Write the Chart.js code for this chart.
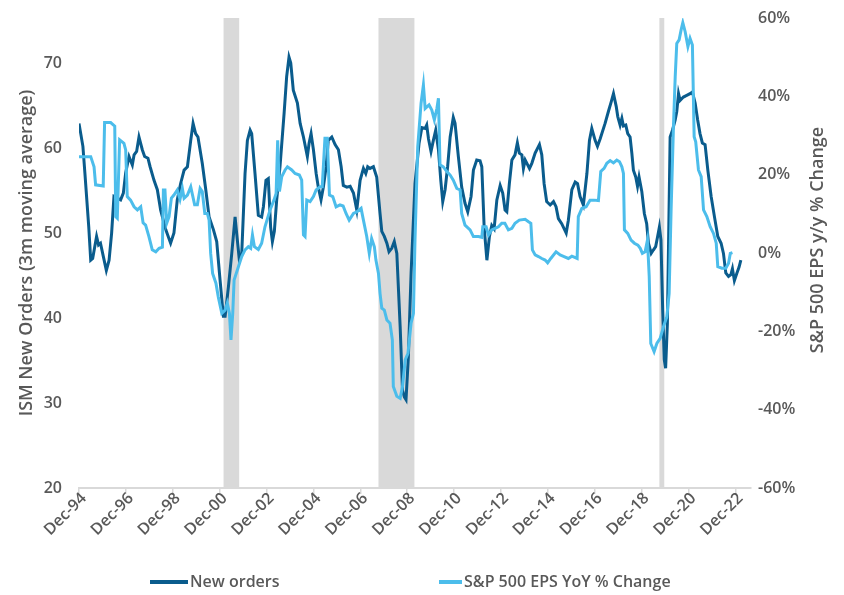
<!DOCTYPE html>
<html>
<head>
<meta charset="utf-8">
<script src="https://cdn.jsdelivr.net/npm/chart.js@4.4.1/dist/chart.umd.min.js"></script>
<style>
  html, body { margin: 0; padding: 0; background: #ffffff; }
  #wrap { width: 844px; height: 595px; position: relative; }
</style>
</head>
<body>
<div id="wrap"><canvas id="c"></canvas></div>
<script>
// ---- Data (x = months since Dec-1994) ----
const xTickLabels = ['Dec-94','Dec-96','Dec-98','Dec-00','Dec-02','Dec-04','Dec-06','Dec-08','Dec-10','Dec-12','Dec-14','Dec-16','Dec-18','Dec-20','Dec-22'];

const ismMonths = [0,2,3,5,6,7,9,10,11,12.5,14,15.4,16.7,17.9,21.3,22.7,23.9,25.6,27.3,28.2,29.5,30.7,32.4,33.6,35.3,36.4,38.4,40.1,41.8,44.4,46.9,48.6,50.3,52,53.8,55.5,57.2,58.4,59.7,60.9,63.1,64.9,66.6,68.8,70.5,72.2,73.9,74.8,76.5,78.2,79.9,80.7,82.1,83.3,85,86.2,87.6,88.4,90.1,91.8,93.5,94.4,95.7,96.9,98.1,99,100,101.2,102.9,105,106.3,107.5,108.4,109.7,111.8,113.2,114.9,116.9,117.8,118.8,120,121.4,122.5,123.9,125.1,126.5,127.6,129.4,131.1,132.8,134.2,135.3,137.1,138.8,140.5,142.2,143.9,145.6,146.8,147.8,149,150.7,152.4,154.1,155,156.3,157.6,158.7,160.1,161.4,162.7,164.4,165.6,166.6,167.4,168.6,170,172,174.1,175.5,177.2,178,178.9,180.2,181.4,182.6,184,185.2,186.2,187.4,188.7,190,191.6,192.5,194.2,195.9,197.6,199,200.7,201.9,203.6,205.3,206.2,207.4,208.8,210.1,211.3,212.5,213.9,215.6,216.9,218.1,219,220.3,221.6,223.2,224.4,225.4,226.7,227.5,228.4,230.6,231.8,233.5,235.7,236.9,238.1,239.4,241.2,242.9,244.2,245.4,247.1,249.4,250.5,252.3,254,255.2,256.5,258.2,260,261.3,262.5,264.2,265.4,266.8,269.3,271,272.4,273.6,275,275.8,277,277.9,278.7,279.9,280.9,282.1,283,283.8,285,285.9,286.7,288.1,289.4,290.6,291.5,292.9,294,295.2,296.2,297.1,297.9,298.8,299.6,300.3,301.2,302.6,303.8,305.2,306,306.9,307.7,309.4,311.1,312.8,314,315.4,316.7,317.9,319.1,320.5,321.9,323.6,325.3,327,328.7,329.9,331.1,332.5,333.7,334.5,335.5,336.8,337.9,338.8];
const ismValues = [62.9,60.2,57.1,50.7,46.8,47.0,49.6,48.6,48.8,47.2,45.6,46.8,50.0,54.3,53.9,54.7,57.1,59.0,58.0,59.2,59.6,61.3,59.8,59.0,58.8,57.8,56.2,55.1,52.7,50.4,48.8,50.0,53.9,55.8,57.4,57.8,60.9,62.9,61.7,61.3,58.2,55.1,51.9,50.4,49.0,44.5,40.2,40.2,43.7,47.6,51.9,50.0,46.8,47.6,57.0,60.9,62.1,61.7,57.0,52.1,51.9,53.1,56.2,56.4,50.7,49.0,50.2,53.9,57.8,64.1,68.4,70.7,70.0,66.8,65.3,62.9,61.3,59.0,60.6,61.7,59.8,57.0,55.4,53.9,55.4,57.8,60.9,61.3,60.4,59.8,57.8,55.6,55.4,55.5,54.7,52.7,56.2,57.6,57.0,57.8,57.6,57.8,56.6,52.3,50.2,49.6,48.8,47.8,48.2,49.0,47.6,39.0,31.5,30.7,30.4,35.4,45.3,55.8,60.6,62.4,62.3,62.7,61.1,59.6,60.9,62.1,59.8,56.2,53.7,55.1,57.8,61.3,63.6,62.9,59.0,55.4,53.5,52.5,54.3,57.4,58.6,58.5,57.8,50.7,46.8,49.6,50.9,50.5,53.9,55.6,54.7,52.7,52.5,55.8,58.6,59.2,60.6,59.4,59.2,57.6,58.6,57.6,58.2,59.4,60.4,59.2,55.8,53.7,53.3,53.7,53.1,51.7,51.1,50.0,51.5,55.1,56.0,55.8,54.3,53.3,57.0,60.9,62.3,60.9,60.2,61.1,62.9,64.3,65.4,66.4,64.9,63.7,62.7,63.5,62.6,62.7,61.7,61.3,59.4,57.4,56.6,55.5,56.6,54.9,52.3,51.1,48.8,47.6,48.0,48.4,49.6,50.7,49.2,40.9,35.1,34.1,39.4,61.3,62.1,63.3,64.3,66.4,65.6,66.0,66.2,66.4,66.6,65.3,63.3,61.7,60.6,60.4,57.4,54.3,51.9,49.6,48.8,47.6,45.3,44.9,45.1,45.8,44.4,45.3,46.0,46.8];

const epsMonths = [0,6,7.7,8.5,12.4,13.1,16.2,18.3,18.8,19.6,20.8,23,23.9,24.7,26.4,28.2,29.9,31.6,32.8,34.1,35.8,37.5,39.3,41,42.7,43.2,44,44.9,46.1,47.3,48.6,50.3,51.7,52.9,53.8,55.5,57.2,59.2,60.6,62,63.1,64.4,65.7,66.6,67.4,68.4,70.1,71.3,73.1,74.8,75.9,77,77.8,78.7,79.4,81.6,83.3,85,86.7,87.9,88.8,89.8,91.8,93.5,95.2,97.8,99.8,100.9,101.7,102.6,103.8,105.5,106.7,108.9,110.6,112.8,114,114.9,115.7,116.6,118.3,120,121.4,123.4,124.5,125.9,127.1,128.2,129.9,131.6,133.6,135.2,136.7,138.3,140.5,142.2,144.4,145.6,147.3,148.6,149.8,151.2,152,153.3,154.1,155,156.3,157.6,159.2,160.4,160.9,162.7,164.4,165.6,167,168.4,170,171.2,172,173.4,175.1,176.3,177.2,179.2,180.6,181.9,183.2,184,184.8,186.5,188.3,190,191.6,193.4,195.1,195.9,197.6,200.2,201.9,204.5,206.2,206.7,208.4,209.6,211.3,213,214.7,216.4,218,219.8,221.6,223.2,225.4,228.4,230.1,231.3,232.1,233.5,235.2,236.9,238.6,239.9,241.5,244.2,246.3,248.3,250.5,252.3,255,255.6,257.4,259.6,261.6,263.5,265.9,267.1,268.8,270.2,271.9,273.6,275.3,276.7,277.9,278.7,279.2,280.9,282.6,284.3,286.1,287.3,288.4,289.8,291,291.9,292.7,294.4,295.8,297.5,299.2,300.9,302.1,303.1,304.3,305.2,306,307.2,308.2,309.1,310.3,311.7,312.8,314,314.9,315.7,317.1,318.5,319.7,321.4,323.1,324.8,326.2,327,329.1,331.1,332.5,333.4,334.5];
const epsValues = [24.6,24.6,22.0,17.4,17.1,33.3,33.3,32.4,9.3,8.9,28.9,28.0,26.3,14.4,13.5,11.8,11.0,11.8,7.7,7.1,4.2,0.8,0.3,1.2,1.5,16.1,16.1,7.6,9.3,14.0,14.8,16.1,13.7,16.5,14.0,14.8,16.9,12.3,12.3,16.5,15.7,10.1,10.1,8.4,-0.1,-5.2,-7.7,-11.2,-15.4,-14.6,-12.8,-15.4,-22.2,-15.4,-6.9,-3.5,-0.9,0.8,1.6,1.2,4.6,1.6,0.9,2.5,6.7,11.0,13.5,15.2,28.8,15.7,19.5,21.2,22.0,21.2,20.3,19.9,18.6,4.6,4.2,13.5,13.1,14.4,16.1,16.9,16.9,29.3,29.3,14.8,14.4,11.8,12.3,12.0,10.1,8.4,10.1,10.5,11.4,8.4,4.2,-0.1,3.7,1.6,-1.8,-5.2,-10.3,-14.1,-14.6,-17.1,-17.9,-22.2,-34.1,-36.6,-37.1,-34.1,-27.3,-25.6,-17.9,-15.4,3.3,27.1,38.2,42.9,36.9,37.8,36.5,34.0,36.9,39.5,22.5,22.0,20.8,19.9,18.6,16.5,16.1,10.1,7.1,5.9,4.2,4.2,4.0,6.7,6.7,4.6,5.9,6.3,6.7,7.6,7.6,5.9,6.3,7.6,8.4,8.6,8.0,7.6,0.8,-0.5,-0.9,-1.4,-1.8,-2.5,-1.4,0.3,-0.5,-0.9,-1.4,-0.8,-1.4,9.3,11.4,11.8,13.5,13.5,13.4,20.8,21.6,22.9,23.6,23.0,23.7,23.3,22.0,20.3,5.9,5.0,3.3,2.5,2.0,1.2,-0.1,0.3,3.3,-6.0,-23.1,-25.2,-23.1,-21.8,-18.8,-16.3,-10.3,11.0,32.2,45.0,53.5,54.4,56.9,58.8,56.5,52.7,54.8,53.1,29.7,28.4,21.2,19.5,11.0,9.3,6.7,5.0,2.5,-3.5,-3.9,-3.9,-2.6,-0.1,0.1];

// Recession shading (start, end) in months since Dec-1994
const recessionStart = [74, 153.3, 297.1];
const recessionEnd   = [82, 171.7, 299.6];

const leftTitle = 'ISM New Orders (3m moving average)';
const rightTitle = 'S&P 500 EPS y/y % Change';
const seriesNames = ['New orders', 'S&P 500 EPS YoY % Change'];
const seriesColors = ['#0A5C8D', '#4CBDEB'];

// ---- Chart ----
Chart.defaults.font.family = "'Open Sans', 'DejaVu Sans', sans-serif";
const GRAY = '#595959';

const recessionPlugin = {
  id: 'recessions',
  beforeDatasetsDraw(chart) {
    const {ctx, chartArea, scales} = chart;
    ctx.save();
    ctx.fillStyle = '#D9D9D9';
    for (let i = 0; i < recessionStart.length; i++) {
      const x1 = scales.x.getPixelForValue(recessionStart[i]);
      const x2 = scales.x.getPixelForValue(recessionEnd[i]);
      ctx.fillRect(x1, chartArea.top, x2 - x1, chartArea.bottom - chartArea.top);
    }
    ctx.restore();
  }
};

const extrasPlugin = {
  id: 'extras',
  afterDraw(chart) {
    const {ctx, chartArea, scales} = chart;
    ctx.save();
    // right axis title, reading bottom-to-top
    ctx.fillStyle = GRAY;
    ctx.font = "600 18px 'Open Sans', sans-serif";
    ctx.textAlign = 'center';
    ctx.textBaseline = 'middle';
    ctx.translate(scales.y1.right - 26, (chartArea.top + chartArea.bottom) / 2 - 13);
    ctx.rotate(-Math.PI / 2);
    ctx.fillText(rightTitle, 0, 0);
    ctx.restore();

    // legend
    ctx.save();
    const starts = [150, 439];
    const lens = [38, 23];
    const ly = 582;
    ctx.font = "600 16px 'Open Sans', sans-serif";
    ctx.textBaseline = 'middle';
    ctx.textAlign = 'left';
    chart.data.datasets.forEach((ds, i) => {
      ctx.fillStyle = ds.borderColor;
      ctx.fillRect(starts[i], ly - 2, lens[i], 4);
      ctx.fillStyle = GRAY;
      ctx.fillText(ds.label, starts[i] + lens[i] + 2, ly);
    });
    ctx.restore();
  }
};

new Chart(document.getElementById('c'), {
  type: 'line',
  data: {
    datasets: [
      {
        label: seriesNames[0],
        data: ismMonths.map((m, i) => ({x: m, y: ismValues[i]})),
        borderColor: seriesColors[0],
        backgroundColor: seriesColors[0],
        borderWidth: 3,
        pointRadius: 0,
        tension: 0,
        yAxisID: 'y',
        order: 1
      },
      {
        label: seriesNames[1],
        data: epsMonths.map((m, i) => ({x: m, y: epsValues[i]})),
        borderColor: seriesColors[1],
        backgroundColor: seriesColors[1],
        borderWidth: 3,
        pointRadius: 0,
        tension: 0,
        yAxisID: 'y1',
        order: 0
      }
    ]
  },
  options: {
    responsive: true,
    maintainAspectRatio: false,
    animation: false,
    layout: { padding: { top: 18, bottom: 50, left: 0, right: 0 } },
    plugins: {
      legend: { display: false },
      tooltip: { enabled: false }
    },
    scales: {
      x: {
        type: 'linear',
        min: 0,
        max: 344,
        grid: { display: true, drawOnChartArea: false, drawTicks: true, tickLength: 6, color: '#D9D9D9', lineWidth: 1.5 },
        border: { display: true, color: '#D9D9D9', width: 2 },
        ticks: {
          stepSize: 24,
          includeBounds: false,
          autoSkip: false,
          maxRotation: 45,
          minRotation: 45,
          padding: -5,
          labelOffset: 5,
          color: GRAY,
          font: { size: 16, weight: '600' },
          callback: (v) => xTickLabels[Math.round(v / 24)]
        },
        afterFit: (s) => { s.height = 57; s.paddingLeft = 0; s.paddingRight = 0; }
      },
      y: {
        position: 'left',
        min: 20,
        max: 75.3,
        grid: { display: false, drawTicks: false },
        border: { display: false },
        ticks: { stepSize: 10, includeBounds: false, padding: 17, color: GRAY, font: { size: 16, weight: '600' } },
        title: { display: true, text: leftTitle, color: GRAY, font: { size: 18, weight: '600' }, padding: { top: 16, bottom: 0 } },
        afterFit: (s) => { s.width = 79; s.paddingTop = 0; s.paddingBottom = 0; }
      },
      y1: {
        position: 'right',
        min: -60,
        max: 60,
        grid: { display: false, drawTicks: false },
        border: { display: false },
        ticks: { stepSize: 20, includeBounds: false, padding: 7, color: GRAY, font: { size: 16, weight: '600' }, callback: (v) => v + '%' },
        afterFit: (s) => { s.width = 93; s.paddingTop = 0; s.paddingBottom = 0; }
      }
    }
  },
  plugins: [recessionPlugin, extrasPlugin]
});
</script>
</body>
</html>
